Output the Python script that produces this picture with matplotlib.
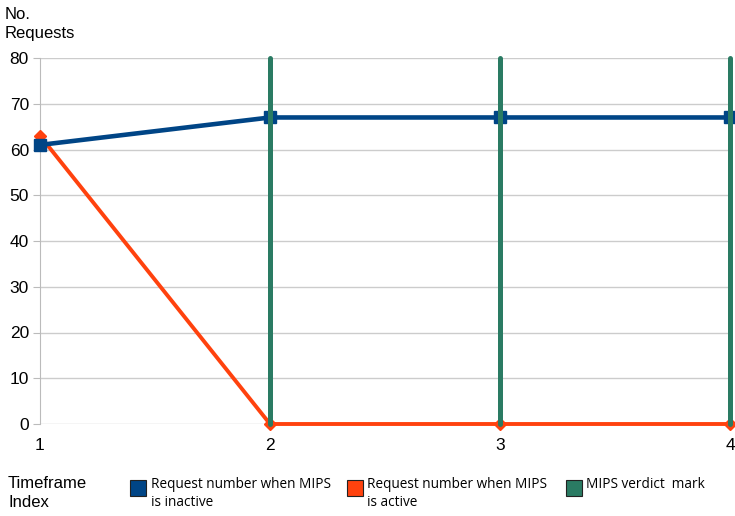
import matplotlib
matplotlib.use("Agg")
import matplotlib.pyplot as plt
from matplotlib.patches import Rectangle

timeframes = [1, 2, 3, 4]
inactive_requests = [61, 67, 67, 67]
active_requests = [63, 0, 0, 0]
verdict_marks = [2, 3, 4]
verdict_range = [0, 80]
y_ticks = [0, 10, 20, 30, 40, 50, 60, 70, 80]

legend_labels = [
    "Request number when MIPS\nis inactive",
    "Request number when MIPS\nis active",
    "MIPS verdict  mark",
]

BLUE = "#004586"
ORANGE = "#FF420E"
GREEN = "#2A7B63"

plt.rcParams["font.family"] = ["Liberation Sans", "DejaVu Sans"]

fig = plt.figure(figsize=(7.35, 5.16), dpi=100)
ax = fig.add_axes([40 / 735, 1 - 424 / 516, 690 / 735, 366 / 516])

ax.set_xlim(1, 4)
ax.set_ylim(0, 80)
ax.set_yticks(y_ticks)
ax.set_xticks(timeframes)
ax.yaxis.grid(True, color="#CCCCCC", linewidth=1.0)
ax.set_axisbelow(True)
for side in ("top", "right", "bottom"):
    ax.spines[side].set_visible(False)
ax.spines["left"].set_color("#BBBBBB")
ax.tick_params(axis="y", length=5, color="#BBBBBB", labelsize=12.5, pad=3)
ax.tick_params(axis="x", length=0, labelsize=12.5, pad=10)

ax.plot(timeframes, active_requests, color=ORANGE, linewidth=2.8,
        marker="D", markersize=6, clip_on=False, zorder=3)
ax.plot(timeframes, inactive_requests, color=BLUE, linewidth=3.3,
        marker="s", markersize=9, clip_on=False, zorder=4)
for xm in verdict_marks:
    ax.plot([xm, xm], verdict_range, color=GREEN, linewidth=3.6,
            solid_capstyle="round", clip_on=False, zorder=5)

fig.text(5 / 735, 1 - 7 / 516, "No.\nRequests", fontsize=12, va="top",
         ha="left", linespacing=1.3)
fig.text(8 / 735, 1 - 476 / 516, "Timeframe\nIndex", fontsize=12, va="top",
         ha="left", linespacing=1.35)

patch_x = [130, 347, 566]
text_x = [151, 367, 586]
colors = [BLUE, ORANGE, GREEN]
for px, tx, col, lab in zip(patch_x, text_x, colors, legend_labels):
    fig.patches.append(Rectangle((px / 735, 1 - 496 / 516), 16 / 735, 16 / 516,
                                 transform=fig.transFigure, facecolor=col,
                                 edgecolor="#222222", linewidth=0.8))
    fig.text(tx / 735, 1 - 477 / 516, lab, fontsize=9.8, va="top", ha="left",
             family=["Open Sans", "DejaVu Sans"], linespacing=1.25)

fig.savefig("out.png", dpi=100)
